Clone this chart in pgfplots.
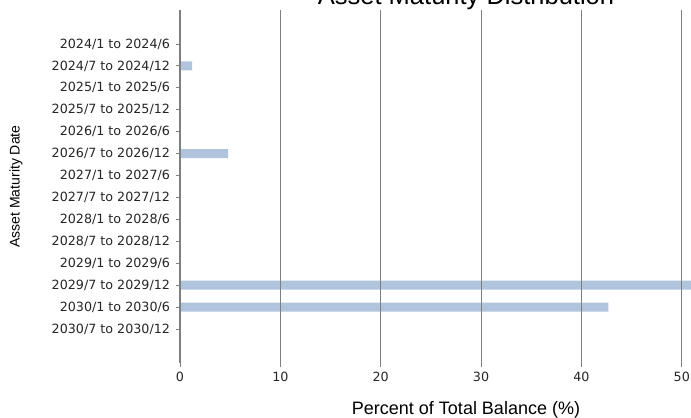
\documentclass[border=0pt]{standalone}
\usepackage{pgfplots}
\pgfplotsset{compat=1.18}
\usepackage{fontspec}
\setmainfont{DejaVu Sans}
\newfontfamily\lib{Liberation Sans}
\definecolor{barc}{HTML}{B0C4DE}
\definecolor{gridc}{HTML}{7F7F7F}
\begin{document}
\begin{tikzpicture}
\begin{axis}[
  at={(0,0)}, anchor=south west,
  scale only axis,
  width=572bp, height=353bp,
  xbar, bar width=9bp,
  xmin=0, xmax=57,
  ymin=-1.55, ymax=14.55,
  y dir=reverse,
  ytick={0,...,13},
  yticklabels={2024/1 to 2024/6,2024/7 to 2024/12,2025/1 to 2025/6,2025/7 to 2025/12,2026/1 to 2026/6,2026/7 to 2026/12,2027/1 to 2027/6,2027/7 to 2027/12,2028/1 to 2028/6,2028/7 to 2028/12,2029/1 to 2029/6,2029/7 to 2029/12,2030/1 to 2030/6,2030/7 to 2030/12},
  xtick={0,10,20,30,40,50},
  axis y line*=left,
  axis x line*=bottom,
  x axis line style={draw=none},
  y axis line style={draw=gridc, line width=1.1bp},
  xmajorgrids,
  grid style={draw=gridc, line width=1.1bp},
  tick align=outside,
  major tick length=4bp,
  every tick/.style={draw=gridc, line width=0.9bp},
  /pgf/number format/assume math mode=true,
  tick label style={font=\fontsize{12.7bp}{15bp}\selectfont, text=black!85},
  yticklabel style={anchor=east, xshift=-2.5bp},
  xticklabel style={anchor=base, yshift=-14bp},
  axis on top,
  title={Asset Maturity Distribution},
  title style={font=\lib\fontsize{25.5bp}{30bp}\selectfont, at={(axis description cs:0.5,1)}, anchor=base},
  xlabel={Percent of Total Balance (\%)},
  xlabel style={font=\lib\fontsize{18bp}{22bp}\selectfont, at={(axis description cs:0.5,-0.1445)}, anchor=base},
  ylabel={Asset Maturity Date},
  ylabel style={font=\lib\fontsize{14bp}{17bp}\selectfont, at={(axis description cs:-0.2867,0.5)}, anchor=center},
]
\addplot[fill=barc, draw=none] coordinates {
  (0,0) (1.2,1) (0,2) (0,3) (0,4) (4.8,5) (0,6) (0,7) (0,8) (0,9) (0,10) (51.5,11) (42.7,12) (0,13)
};
\end{axis}
\pgfresetboundingbox
\useasboundingbox (-180bp,-55bp) rectangle (511bp,363bp);
\end{tikzpicture}
\end{document}
